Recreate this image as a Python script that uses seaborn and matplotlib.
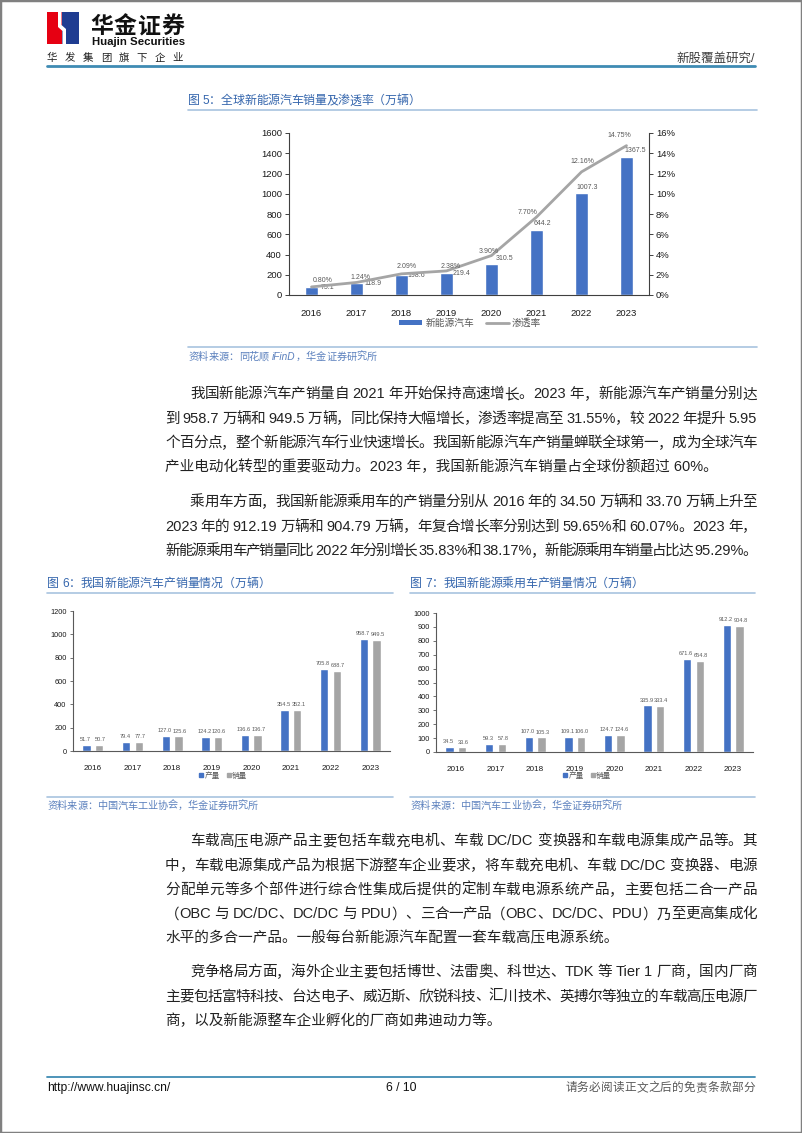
import re
import matplotlib
matplotlib.use('Agg')
import numpy as np
import pandas as pd
import seaborn as sns
import matplotlib.pyplot as plt
from matplotlib.patches import Rectangle, Polygon, Patch
from matplotlib.lines import Line2D

# ---------------- data ----------------
years = ['2016', '2017', '2018', '2019', '2020', '2021', '2022', '2023']
global_sales = [75.1, 118.9, 198.6, 219.4, 310.5, 644.2, 1007.3, 1367.5]
global_penetration = [0.80, 1.24, 2.09, 2.38, 3.90, 7.70, 12.16, 14.75]

nev_production = [51.7, 79.4, 127.0, 124.2, 136.6, 354.5, 705.8, 958.7]
nev_sales = [50.7, 77.7, 125.6, 120.6, 136.7, 352.1, 688.7, 949.5]

pv_production = [34.5, 59.3, 107.0, 109.1, 124.7, 335.9, 671.6, 912.2]
pv_sales = [33.6, 57.8, 105.3, 106.0, 124.6, 333.4, 654.8, 904.8]

series_names = ['产量', '销量']
legend1 = ['新能源汽车', '渗透率']

# ---------------- page setup ----------------
W, H = 802, 1133
sns.set_theme(style='white')
plt.rcParams['font.family'] = ['Liberation Sans', 'Noto Sans CJK SC']
plt.rcParams['axes.unicode_minus'] = False

BLUE = '#4472c4'
GRAY = '#a5a5a5'
LABEL = '#595959'
TITLE_BLUE = '#3566ad'
SRC_BLUE = '#5b80bd'
RULE = '#a8c3df'

fig = plt.figure(figsize=(W / 100, H / 100), dpi=100)
fig.patch.set_facecolor('white')
renderer = fig.canvas.get_renderer()


def fx(x):
    return x / W


def fy(y):
    return 1 - y / H


def add_ax(x0, y0, x1, y1):
    return fig.add_axes([x0 / W, 1 - y1 / H, (x1 - x0) / W, (y1 - y0) / H])


def hline(x0, x1, y, color, lw):
    fig.add_artist(Line2D([fx(x0), fx(x1)], [fy(y), fy(y)], color=color, lw=lw,
                          transform=fig.transFigure))


def text_w(s, **kw):
    if s == ' ':
        return kw.get('fontsize', 10) * 100 / 72 * 0.28
    t = fig.text(0, 0, s, **kw)
    w = t.get_window_extent(renderer).width
    t.remove()
    return w


def jtext(line, x0, yc, x1=None, **kw):
    """place a line of text with its centre at yc; justify to x1 if given"""
    size = kw.get('fontsize', 10)
    yb = yc + size * 100 / 72 * 0.36
    if x1 is None:
        fig.text(fx(x0), fy(yb), line, ha='left', va='baseline', **kw)
        return
    toks = re.findall(r'[A-Za-z0-9.%/:]+|.', line)
    ws = [text_w(t, **kw) for t in toks]
    gap = ((x1 - x0) - sum(ws)) / max(len(toks) - 1, 1)
    x = x0
    for t, w in zip(toks, ws):
        if t != ' ':
            fig.text(fx(x), fy(yb), t, ha='left', va='baseline', **kw)
        x += w + gap


# page frame
fig.add_artist(Rectangle((0, 0), 1, 1, transform=fig.transFigure, fill=False,
                         ec='#808080', lw=2.5))

# ---------------- header ----------------
fig.add_artist(Rectangle((fx(47), fy(44)), 15 / W, 32 / H, transform=fig.transFigure,
                         fc='#e60012', ec='none'))
fig.add_artist(Rectangle((fx(62), fy(44)), 17 / W, 32 / H, transform=fig.transFigure,
                         fc='#1f3c91', ec='none'))
pts = [(58, 12), (61.5, 12), (61.5, 25), (66, 29), (66, 44), (62.5, 44), (62.5, 31), (58, 27)]
fig.add_artist(Polygon([(fx(a), fy(b)) for a, b in pts], closed=True,
                       transform=fig.transFigure, fc='white', ec='none'))
jtext('华金证券', 90, 25, 184, fontsize=16.5, fontweight='bold', color='#111111')
jtext('Huajin Securities', 92, 40.5, None, fontsize=8.2, fontweight='bold', color='#111111')
jtext('华 发 集 团 旗 下 企 业', 47, 57, 183, fontsize=7.5, color='#222222')
fig.text(fx(755), fy(57 + 4.5), '新股覆盖研究/', ha='right', va='baseline',
         fontsize=9, color='#404040')
hline(47, 755, 66, '#3f8bb3', 2.0)

# ---------------- figure 5 ----------------
jtext('图 5：全球新能源汽车销量及渗透率（万辆）', 188, 100, 420, fontsize=8.6, color=TITLE_BLUE)
hline(188, 757, 110, RULE, 1.2)

ax = add_ax(289, 133, 649, 295)
df1 = pd.DataFrame({'year': years, 'sales': global_sales, 'pen': global_penetration})
sns.barplot(data=df1, x='year', y='sales', color=BLUE, saturation=1, width=0.3, ax=ax)
ax.set_ylim(0, 1600)
ax.set_yticks(range(0, 1601, 200))
ax.set_xlim(-0.5, 7.5)
ax.set_xlabel('')
ax.set_ylabel('')
ax2 = ax.twinx()
sns.lineplot(x=np.arange(len(years)), y=global_penetration, ax=ax2, color=GRAY, lw=2)
ax2.set_ylim(0, 16)
ax2.set_yticks(range(0, 17, 2))
ax2.set_yticklabels([f'{v}%' for v in range(0, 17, 2)])
ax2.set_xlim(-0.5, 7.5)
for a in (ax, ax2):
    for s in a.spines.values():
        s.set_color('#404040')
        s.set_linewidth(0.8)
    a.spines['top'].set_visible(False)
    a.grid(False)
ax.spines['right'].set_visible(False)
ax2.spines['left'].set_visible(False)
ax2.spines['bottom'].set_visible(False)
ax.tick_params(axis='y', left=True, length=3, width=0.7, color='#404040',
               labelsize=6.8, labelcolor='#1a1a1a', pad=2)
ax.tick_params(axis='x', bottom=False, labelsize=6.8, labelcolor='#1a1a1a', pad=4)
ax2.tick_params(axis='y', right=True, length=3, width=0.7, color='#404040',
                labelsize=6.8, labelcolor='#1a1a1a', pad=2)

bar_off = [(16, 0), (17, -1), (15, -1), (15, -1), (13, 5), (6, 6), (6, 6), (9, 6)]
for i, (v, (dx, dy)) in enumerate(zip(global_sales, bar_off)):
    ax.annotate(f'{v:.1f}', (i, v), xytext=(dx * 0.72, dy * 0.72), textcoords='offset points',
                ha='center', va='center', fontsize=5, color=LABEL)
pen_off = [(11, 6), (4, 5), (5, 7), (4, 4), (-3, 4), (-9, 5), (1, 10), (-7, 10)]
for i, (v, (dx, dy)) in enumerate(zip(global_penetration, pen_off)):
    ax2.annotate(f'{v:.2f}%', (i, v), xytext=(dx * 0.72, dy * 0.72), textcoords='offset points',
                 ha='center', va='center', fontsize=5, color=LABEL)

h1 = [Patch(fc=BLUE, ec='none', label=legend1[0]),
      Line2D([], [], color=GRAY, lw=2, label=legend1[1])]
fig.legend(handles=h1, loc='center', bbox_to_anchor=(fx(470), fy(323)), ncol=2,
           frameon=False, fontsize=7, labelcolor=LABEL, handlelength=2.4,
           handleheight=0.45, handletextpad=0.3, columnspacing=1.2)

hline(188, 757, 347, RULE, 1.2)
jtext('资料来源：同花顺 iFinD，华金证券研究所', 188, 356, 377, fontsize=7.3,
      color=SRC_BLUE, style='italic')

# ---------------- body text ----------------
BODY = dict(fontsize=10.5, color='#222222')
R = 757
STEP = 24.3
para1 = ['我国新能源汽车产销量自 2021 年开始保持高速增长。2023 年，新能源汽车产销量分别达',
         '到 958.7 万辆和 949.5 万辆，同比保持大幅增长，渗透率提高至 31.55%，较 2022 年提升 5.95',
         '个百分点，整个新能源汽车行业快速增长。我国新能源汽车产销量蝉联全球第一，成为全球汽车',
         '产业电动化转型的重要驱动力。2023 年，我国新能源汽车销量占全球份额超过 60%。']
para2 = ['乘用车方面，我国新能源乘用车的产销量分别从 2016 年的 34.50 万辆和 33.70 万辆上升至',
         '2023 年的 912.19 万辆和 904.79 万辆，年复合增长率分别达到 59.65%和 60.07%。2023 年，',
         '新能源乘用车产销量同比 2022 年分别增长 35.83%和 38.17%，新能源乘用车销量占比达 95.29%。']
para3 = ['车载高压电源产品主要包括车载充电机、车载 DC/DC 变换器和车载电源集成产品等。其',
         '中，车载电源集成产品为根据下游整车企业要求，将车载充电机、车载 DC/DC 变换器、电源',
         '分配单元等多个部件进行综合性集成后提供的定制车载电源系统产品，主要包括二合一产品',
         '（OBC 与 DC/DC、DC/DC 与 PDU）、三合一产品（OBC、DC/DC、PDU）乃至更高集成化',
         '水平的多合一产品。一般每台新能源汽车配置一套车载高压电源系统。']
para4 = ['竞争格局方面，海外企业主要包括博世、法雷奥、科世达、TDK 等 Tier 1 厂商，国内厂商',
         '主要包括富特科技、台达电子、威迈斯、欣锐科技、汇川技术、英搏尔等独立的车载高压电源厂',
         '商，以及新能源整车企业孵化的厂商如弗迪动力等。']


def paragraph(lines, y0, justify_last=False):
    for k, ln in enumerate(lines):
        x0 = 190 if k == 0 else 165
        last = k == len(lines) - 1
        jtext(ln, x0, y0 + k * STEP, None if (last and not justify_last) else R, **BODY)


paragraph(para1, 393)
paragraph(para2, 501, justify_last=True)

# ---------------- figures 6 & 7 ----------------
def pair_chart(box, prod, sale, ymax, ystep, title, tx0, tx1, lx0, lx1, legx, src_x1):
    x0, y0, x1, y1 = box
    jtext(title, tx0, 583, tx1, fontsize=8.6, color=TITLE_BLUE)
    hline(lx0, lx1, 593, RULE, 1.2)
    a = add_ax(x0, y0, x1, y1)
    df = pd.DataFrame({'year': years * 2,
                       'series': [series_names[0]] * len(years) + [series_names[1]] * len(years),
                       'value': list(prod) + list(sale)})
    sns.barplot(data=df, x='year', y='value', hue='series', palette=[BLUE, GRAY],
                saturation=1, width=0.64, gap=0.34, ax=a, legend=False)
    a.set_ylim(0, ymax)
    a.set_yticks(np.arange(0, ymax + 1, ystep))
    a.set_xlim(-0.5, 7.5)
    a.set_xlabel('')
    a.set_ylabel('')
    a.grid(False)
    for s in ('top', 'right'):
        a.spines[s].set_visible(False)
    for s in ('left', 'bottom'):
        a.spines[s].set_color('#595959')
        a.spines[s].set_linewidth(0.8)
    a.tick_params(axis='y', left=True, length=2.5, width=0.6, color='#595959',
                  labelsize=5.3, labelcolor='#1a1a1a', pad=2)
    a.tick_params(axis='x', bottom=False, labelsize=5.9, labelcolor='#1a1a1a', pad=4)
    for cont, dx in zip(a.containers, (-0.8, 0.8)):
        for r in cont:
            v = r.get_height()
            a.annotate(f'{v:.1f}', (r.get_x() + r.get_width() / 2, v), xytext=(dx, 2),
                       textcoords='offset points', ha='center', va='bottom',
                       fontsize=4.1, color=LABEL)
    hh = [Line2D([], [], marker='s', ls='', color=BLUE, markersize=2.6, label=series_names[0]),
          Line2D([], [], marker='s', ls='', color=GRAY, markersize=2.6, label=series_names[1])]
    fig.legend(handles=hh, loc='center', bbox_to_anchor=(fx(legx), fy(776)), ncol=2,
               frameon=False, fontsize=5.5, labelcolor=LABEL, handlelength=0.6,
               handletextpad=0.15, columnspacing=0.9)
    hline(lx0, lx1, 797, RULE, 1.2)
    jtext('资料来源：中国汽车工业协会，华金证券研究所', lx0, 805, src_x1, fontsize=7.3,
          color=SRC_BLUE, style='italic')


pair_chart((73, 611, 390, 751), nev_production, nev_sales, 1200, 200,
           '图 6：我国新能源汽车产销量情况（万辆）', 47, 270, 47, 393, 223, 258)
pair_chart((436, 613, 753, 752), pv_production, pv_sales, 1000, 100,
           '图 7：我国新能源乘用车产销量情况（万辆）', 410, 643, 410, 755, 587, 622)

paragraph(para3, 840)
paragraph(para4, 971)

# ---------------- footer ----------------
hline(47, 755, 1077, '#3f8bb3', 1.3)
fig.text(fx(47), fy(1091), 'http://www.huajinsc.cn/', ha='left', va='baseline',
         fontsize=8.7, color='#111111')
fig.text(fx(401), fy(1091), '6 / 10', ha='center', va='baseline', fontsize=8.7, color='#111111')
jtext('请务必阅读正文之后的免责条款部分', 565, 1087, 755, fontsize=8.4, color='#595959')

fig.savefig('out.png', dpi=100, facecolor='white')
